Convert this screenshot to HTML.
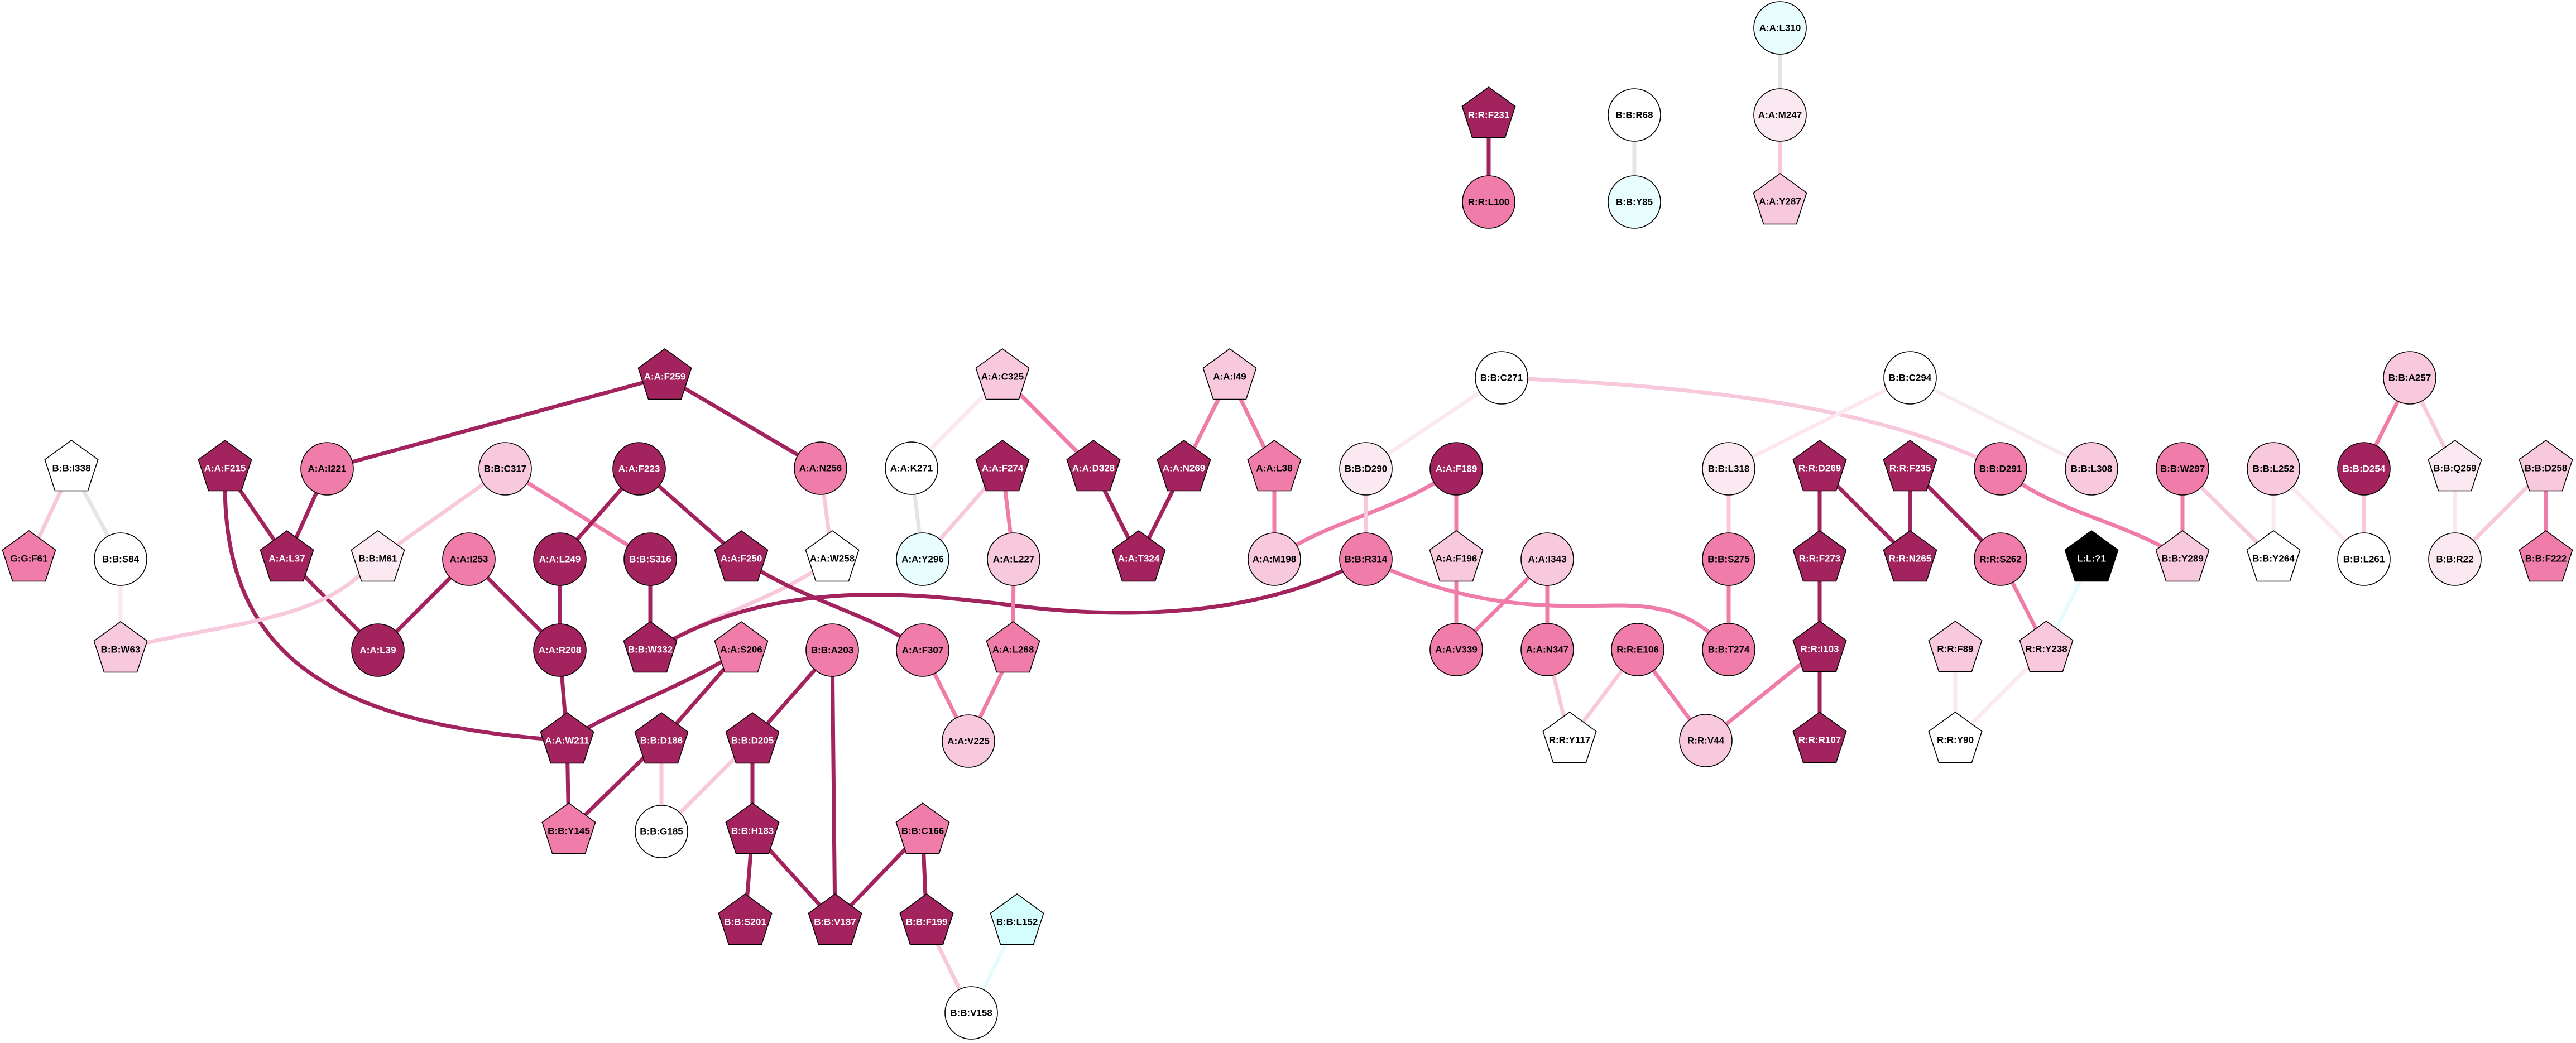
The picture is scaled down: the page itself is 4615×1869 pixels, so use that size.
<!DOCTYPE html>
<html><head><meta charset="utf-8"><style>
html,body{margin:0;padding:0;background:#fff;}
svg{display:block;}
text{font-family:"Liberation Sans",Arial,sans-serif;font-weight:bold;font-size:17px;text-anchor:middle;dominant-baseline:central;fill:#000;stroke:none;}
text.w{fill:#fff;}
.n use,.n circle{stroke:#000;stroke-width:1.6;}
.D{fill:#a2235e}.P{fill:#f07caa}.L{fill:#f8c8dc}.V{fill:#fbe9f1}.W{fill:#fff}.C{fill:#e8fdfd}.C2{fill:#d4fdfd}.K{fill:#000}
.ed{stroke:#a2235e;stroke-width:7;fill:none}
.ep{stroke:#f07caa;stroke-width:7;fill:none}
.el{stroke:#f8c8dc;stroke-width:7;fill:none}
.ev{stroke:#fbe9f1;stroke-width:7;fill:none}
.eg{stroke:#e5e5e5;stroke-width:7;fill:none}
.ec{stroke:#e6fcfc;stroke-width:7;fill:none}
</style></head><body>
<svg width="4615" height="1869" viewBox="0 0 4615 1869" xmlns="http://www.w3.org/2000/svg">
<defs>
<polygon id="pt" points="0,-50 47.6,-15.5 29.4,40.5 -29.4,40.5 -47.6,-15.5"/>
</defs>
<g>
<line class="ed" x1="1191" y1="675" x2="586" y2="840"/>
<line class="ed" x1="1191" y1="675" x2="1470" y2="839"/>
<line class="el" x1="128" y1="839" x2="52" y2="1001"/>
<line class="eg" x1="128" y1="839" x2="216" y2="1002"/>
<line class="ev" x1="216" y1="1002" x2="216" y2="1164"/>
<line class="ed" x1="403" y1="839" x2="514" y2="1001"/>
<path class="ed" d="M403,870 C403,1180 600,1300 1016,1327"/>
<line class="ed" x1="586" y1="840" x2="514" y2="1001"/>
<line class="ed" x1="514" y1="1001" x2="677" y2="1165"/>
<line class="el" x1="905" y1="840" x2="677" y2="1001"/>
<line class="ep" x1="905" y1="840" x2="1165" y2="1002"/>
<path class="el" d="M645,1030 C560,1110 400,1120 262,1152"/>
<line class="ed" x1="1145" y1="840" x2="1003" y2="1002"/>
<line class="ed" x1="1145" y1="840" x2="1328" y2="1001"/>
<line class="ed" x1="840" y1="1002" x2="677" y2="1165"/>
<line class="ed" x1="840" y1="1002" x2="1003" y2="1165"/>
<line class="ed" x1="1003" y1="1002" x2="1003" y2="1165"/>
<line class="ed" x1="1165" y1="1002" x2="1165" y2="1164"/>
<line class="ed" x1="1003" y1="1165" x2="1016" y2="1327"/>
<path class="el" d="M1491,1001 C1400,1070 1280,1100 1180,1160"/>
<path class="ed" d="M1180,1160 C1380,1040 1620,1060 1800,1083 C2000,1110 2250,1110 2447,1002"/>
<line class="el" x1="1470" y1="839" x2="1491" y2="1001"/>
<path class="ed" d="M1340,1010 C1450,1080 1560,1100 1653,1165"/>
<path class="ed" d="M1328,1164 C1230,1230 1100,1270 1016,1327"/>
<line class="ed" x1="1328" y1="1164" x2="1185" y2="1327"/>
<line class="ed" x1="1016" y1="1327" x2="1019" y2="1489"/>
<line class="ed" x1="1185" y1="1327" x2="1019" y2="1489"/>
<line class="el" x1="1185" y1="1327" x2="1185" y2="1490"/>
<line class="el" x1="1348" y1="1327" x2="1185" y2="1490"/>
<line class="ed" x1="1491" y1="1165" x2="1348" y2="1327"/>
<line class="ed" x1="1491" y1="1165" x2="1496" y2="1652"/>
<line class="ed" x1="1348" y1="1327" x2="1348" y2="1489"/>
<line class="ed" x1="1348" y1="1489" x2="1335" y2="1652"/>
<line class="ed" x1="1348" y1="1489" x2="1496" y2="1652"/>
<line class="ed" x1="1653" y1="1489" x2="1496" y2="1652"/>
<line class="ed" x1="1653" y1="1489" x2="1660" y2="1652"/>
<line class="el" x1="1660" y1="1652" x2="1740" y2="1815"/>
<line class="ec" x1="1822" y1="1652" x2="1740" y2="1815"/>
<line class="ep" x1="1653" y1="1165" x2="1735" y2="1328"/>
<line class="ep" x1="1815" y1="1164" x2="1735" y2="1328"/>
<line class="ep" x1="1816" y1="1002" x2="1815" y2="1164"/>
<line class="ep" x1="1796" y1="839" x2="1816" y2="1002"/>
<line class="el" x1="1796" y1="839" x2="1653" y2="1002"/>
<line class="eg" x1="1633" y1="839" x2="1653" y2="1002"/>
<line class="ev" x1="1796" y1="675" x2="1633" y2="839"/>
<line class="ep" x1="1796" y1="675" x2="1959" y2="839"/>
<line class="ed" x1="1959" y1="839" x2="2040" y2="1001"/>
<line class="ed" x1="2121" y1="839" x2="2040" y2="1001"/>
<line class="ep" x1="2203" y1="675" x2="2121" y2="839"/>
<line class="ep" x1="2203" y1="675" x2="2283" y2="839"/>
<line class="ep" x1="2283" y1="839" x2="2283" y2="1002"/>
<path class="ep" d="M2609,840 C2500,920 2380,930 2283,1002"/>
<line class="el" x1="2447" y1="840" x2="2447" y2="1002"/>
<line class="ev" x1="2690" y1="677" x2="2447" y2="840"/>
<path class="el" d="M2690,677 C3000,690 3350,720 3584,840"/>
<line class="ep" x1="2609" y1="840" x2="2609" y2="1001"/>
<line class="ep" x1="2609" y1="1001" x2="2609" y2="1164"/>
<line class="ep" x1="2772" y1="1002" x2="2609" y2="1164"/>
<line class="ep" x1="2772" y1="1002" x2="2772" y2="1164"/>
<path class="ep" d="M2447,1002 C2650,1100 2800,1085 2900,1085 C3000,1085 3040,1110 3097,1164"/>
<line class="el" x1="2772" y1="1164" x2="2812" y2="1326"/>
<line class="el" x1="2934" y1="1164" x2="2812" y2="1326"/>
<line class="ep" x1="2934" y1="1164" x2="3056" y2="1327"/>
<line class="el" x1="3097" y1="840" x2="3097" y2="1002"/>
<line class="ep" x1="3097" y1="1002" x2="3097" y2="1164"/>
<line class="ev" x1="3422" y1="677" x2="3097" y2="840"/>
<line class="ev" x1="3422" y1="677" x2="3747" y2="840"/>
<line class="ed" x1="3260" y1="839" x2="3260" y2="1001"/>
<line class="ed" x1="3260" y1="839" x2="3422" y2="1001"/>
<line class="ed" x1="3422" y1="839" x2="3422" y2="1001"/>
<line class="ed" x1="3422" y1="839" x2="3584" y2="1002"/>
<line class="ed" x1="3260" y1="1001" x2="3260" y2="1163"/>
<line class="ed" x1="3260" y1="1163" x2="3260" y2="1326"/>
<line class="ep" x1="3260" y1="1163" x2="3056" y2="1327"/>
<line class="ep" x1="3584" y1="1002" x2="3666" y2="1163"/>
<line class="ec" x1="3747" y1="1001" x2="3666" y2="1163"/>
<line class="ev" x1="3503" y1="1163" x2="3503" y2="1326"/>
<line class="ev" x1="3666" y1="1163" x2="3503" y2="1326"/>
<path class="ep" d="M3584,840 C3680,920 3800,930 3910,1001"/>
<line class="ep" x1="3910" y1="840" x2="3910" y2="1001"/>
<line class="el" x1="3910" y1="840" x2="4073" y2="1001"/>
<line class="ev" x1="4073" y1="840" x2="4073" y2="1001"/>
<line class="ev" x1="4073" y1="840" x2="4235" y2="1002"/>
<line class="el" x1="4235" y1="840" x2="4235" y2="1002"/>
<line class="ep" x1="4317" y1="677" x2="4235" y2="840"/>
<line class="el" x1="4317" y1="677" x2="4398" y2="839"/>
<line class="ev" x1="4398" y1="839" x2="4398" y2="1002"/>
<line class="el" x1="4561" y1="839" x2="4398" y2="1002"/>
<line class="ep" x1="4561" y1="839" x2="4561" y2="1001"/>
<line class="ed" x1="2667" y1="206" x2="2667" y2="362"/>
<line class="eg" x1="2928" y1="206" x2="2928" y2="362"/>
<line class="eg" x1="3189" y1="50" x2="3189" y2="206"/>
<line class="el" x1="3189" y1="206" x2="3189" y2="361"/>
</g>
<g class="n">
<g transform="translate(128,839)"><use href="#pt" class="W"/><text>B:B:I338</text></g>
<g transform="translate(403,839)"><use href="#pt" class="D"/><text class="w">A:A:F215</text></g>
<g transform="translate(586,840)"><circle r="47" class="P"/><text>A:A:I221</text></g>
<g transform="translate(905,840)"><circle r="47" class="L"/><text>B:B:C317</text></g>
<g transform="translate(1145,840)"><circle r="47" class="D"/><text class="w">A:A:F223</text></g>
<g transform="translate(1191,675)"><use href="#pt" class="D"/><text class="w">A:A:F259</text></g>
<g transform="translate(52,1001)"><use href="#pt" class="P"/><text>G:G:F61</text></g>
<g transform="translate(216,1002)"><circle r="47" class="W"/><text>B:B:S84</text></g>
<g transform="translate(514,1001)"><use href="#pt" class="D"/><text class="w">A:A:L37</text></g>
<g transform="translate(677,1001)"><use href="#pt" class="V"/><text>B:B:M61</text></g>
<g transform="translate(840,1002)"><circle r="47" class="P"/><text>A:A:I253</text></g>
<g transform="translate(1003,1002)"><circle r="47" class="D"/><text class="w">A:A:L249</text></g>
<g transform="translate(1165,1002)"><circle r="47" class="D"/><text class="w">B:B:S316</text></g>
<g transform="translate(216,1164)"><use href="#pt" class="L"/><text>B:B:W63</text></g>
<g transform="translate(677,1165)"><circle r="47" class="D"/><text class="w">A:A:L39</text></g>
<g transform="translate(1003,1165)"><circle r="47" class="D"/><text class="w">A:A:R208</text></g>
<g transform="translate(1165,1164)"><use href="#pt" class="D"/><text class="w">B:B:W332</text></g>
<g transform="translate(1328,1164)"><use href="#pt" class="P"/><text>A:A:S206</text></g>
<g transform="translate(1491,1165)"><circle r="47" class="P"/><text>B:B:A203</text></g>
<g transform="translate(1653,1165)"><circle r="47" class="P"/><text>A:A:F307</text></g>
<g transform="translate(1815,1164)"><use href="#pt" class="P"/><text>A:A:L268</text></g>
<g transform="translate(1016,1327)"><use href="#pt" class="D"/><text class="w">A:A:W211</text></g>
<g transform="translate(1185,1327)"><use href="#pt" class="D"/><text class="w">B:B:D186</text></g>
<g transform="translate(1348,1327)"><use href="#pt" class="D"/><text class="w">B:B:D205</text></g>
<g transform="translate(1735,1328)"><circle r="47" class="L"/><text>A:A:V225</text></g>
<g transform="translate(1019,1489)"><use href="#pt" class="P"/><text>B:B:Y145</text></g>
<g transform="translate(1185,1490)"><circle r="47" class="W"/><text>B:B:G185</text></g>
<g transform="translate(1348,1489)"><use href="#pt" class="D"/><text class="w">B:B:H183</text></g>
<g transform="translate(1653,1489)"><use href="#pt" class="P"/><text>B:B:C166</text></g>
<g transform="translate(1335,1652)"><use href="#pt" class="D"/><text class="w">B:B:S201</text></g>
<g transform="translate(1496,1652)"><use href="#pt" class="D"/><text class="w">B:B:V187</text></g>
<g transform="translate(1660,1652)"><use href="#pt" class="D"/><text class="w">B:B:F199</text></g>
<g transform="translate(1822,1652)"><use href="#pt" class="C2"/><text>B:B:L152</text></g>
<g transform="translate(1740,1815)"><circle r="47" class="W"/><text>B:B:V158</text></g>
<g transform="translate(1796,675)"><use href="#pt" class="L"/><text>A:A:C325</text></g>
<g transform="translate(2203,675)"><use href="#pt" class="L"/><text>A:A:I49</text></g>
<g transform="translate(2690,677)"><circle r="47" class="W"/><text>B:B:C271</text></g>
<g transform="translate(1470,839)"><circle r="47" class="P"/><text>A:A:N256</text></g>
<g transform="translate(1633,839)"><circle r="47" class="W"/><text>A:A:K271</text></g>
<g transform="translate(1796,839)"><use href="#pt" class="D"/><text class="w">A:A:F274</text></g>
<g transform="translate(1959,839)"><use href="#pt" class="D"/><text class="w">A:A:D328</text></g>
<g transform="translate(2121,839)"><use href="#pt" class="D"/><text class="w">A:A:N269</text></g>
<g transform="translate(2283,839)"><use href="#pt" class="P"/><text>A:A:L38</text></g>
<g transform="translate(2447,840)"><circle r="47" class="V"/><text>B:B:D290</text></g>
<g transform="translate(2609,840)"><circle r="47" class="D"/><text class="w">A:A:F189</text></g>
<g transform="translate(3097,840)"><circle r="47" class="V"/><text>B:B:L318</text></g>
<g transform="translate(1328,1001)"><use href="#pt" class="D"/><text class="w">A:A:F250</text></g>
<g transform="translate(1491,1001)"><use href="#pt" class="W"/><text>A:A:W258</text></g>
<g transform="translate(1653,1002)"><circle r="47" class="C"/><text>A:A:Y296</text></g>
<g transform="translate(1816,1002)"><circle r="47" class="L"/><text>A:A:L227</text></g>
<g transform="translate(2040,1001)"><use href="#pt" class="D"/><text class="w">A:A:T324</text></g>
<g transform="translate(2283,1002)"><circle r="47" class="L"/><text>A:A:M198</text></g>
<g transform="translate(2447,1002)"><circle r="47" class="P"/><text>B:B:R314</text></g>
<g transform="translate(2609,1001)"><use href="#pt" class="L"/><text>A:A:F196</text></g>
<g transform="translate(2772,1002)"><circle r="47" class="L"/><text>A:A:I343</text></g>
<g transform="translate(3097,1002)"><circle r="47" class="P"/><text>B:B:S275</text></g>
<g transform="translate(2609,1164)"><circle r="47" class="P"/><text>A:A:V339</text></g>
<g transform="translate(2772,1164)"><circle r="47" class="P"/><text>A:A:N347</text></g>
<g transform="translate(2934,1164)"><circle r="47" class="P"/><text>R:R:E106</text></g>
<g transform="translate(3097,1164)"><circle r="47" class="P"/><text>B:B:T274</text></g>
<g transform="translate(2812,1326)"><use href="#pt" class="W"/><text>R:R:Y117</text></g>
<g transform="translate(3056,1327)"><circle r="47" class="L"/><text>R:R:V44</text></g>
<g transform="translate(3422,677)"><circle r="47" class="W"/><text>B:B:C294</text></g>
<g transform="translate(4317,677)"><circle r="47" class="L"/><text>B:B:A257</text></g>
<g transform="translate(3260,839)"><use href="#pt" class="D"/><text class="w">R:R:D269</text></g>
<g transform="translate(3422,839)"><use href="#pt" class="D"/><text class="w">R:R:F235</text></g>
<g transform="translate(3584,840)"><circle r="47" class="P"/><text>B:B:D291</text></g>
<g transform="translate(3747,840)"><circle r="47" class="L"/><text>B:B:L308</text></g>
<g transform="translate(3910,840)"><circle r="47" class="P"/><text>B:B:W297</text></g>
<g transform="translate(4073,840)"><circle r="47" class="L"/><text>B:B:L252</text></g>
<g transform="translate(4235,840)"><circle r="47" class="D"/><text class="w">B:B:D254</text></g>
<g transform="translate(4398,839)"><use href="#pt" class="V"/><text>B:B:Q259</text></g>
<g transform="translate(4561,839)"><use href="#pt" class="L"/><text>B:B:D258</text></g>
<g transform="translate(3260,1001)"><use href="#pt" class="D"/><text class="w">R:R:F273</text></g>
<g transform="translate(3422,1001)"><use href="#pt" class="D"/><text class="w">R:R:N265</text></g>
<g transform="translate(3584,1002)"><circle r="47" class="P"/><text>R:R:S262</text></g>
<g transform="translate(3747,1001)"><use href="#pt" class="K"/><text class="w">L:L:?1</text></g>
<g transform="translate(3910,1001)"><use href="#pt" class="L"/><text>B:B:Y289</text></g>
<g transform="translate(4073,1001)"><use href="#pt" class="W"/><text>B:B:Y264</text></g>
<g transform="translate(4235,1002)"><circle r="47" class="W"/><text>B:B:L261</text></g>
<g transform="translate(4398,1002)"><circle r="47" class="V"/><text>B:B:R22</text></g>
<g transform="translate(4561,1001)"><use href="#pt" class="P"/><text>B:B:F222</text></g>
<g transform="translate(3260,1163)"><use href="#pt" class="D"/><text class="w">R:R:I103</text></g>
<g transform="translate(3503,1163)"><use href="#pt" class="L"/><text>R:R:F89</text></g>
<g transform="translate(3666,1163)"><use href="#pt" class="L"/><text>R:R:Y238</text></g>
<g transform="translate(3260,1326)"><use href="#pt" class="D"/><text class="w">R:R:R107</text></g>
<g transform="translate(3503,1326)"><use href="#pt" class="W"/><text>R:R:Y90</text></g>
<g transform="translate(3189,50)"><circle r="47" class="C"/><text>A:A:L310</text></g>
<g transform="translate(2667,206)"><use href="#pt" class="D"/><text class="w">R:R:F231</text></g>
<g transform="translate(2928,206)"><circle r="47" class="W"/><text>B:B:R68</text></g>
<g transform="translate(3189,206)"><circle r="47" class="V"/><text>A:A:M247</text></g>
<g transform="translate(2667,362)"><circle r="47" class="P"/><text>R:R:L100</text></g>
<g transform="translate(2928,362)"><circle r="47" class="C"/><text>B:B:Y85</text></g>
<g transform="translate(3189,361)"><use href="#pt" class="L"/><text>A:A:Y287</text></g>
</g>
</svg>
</body></html>
